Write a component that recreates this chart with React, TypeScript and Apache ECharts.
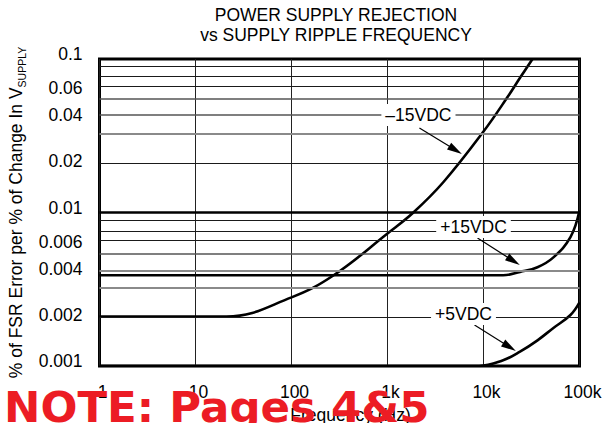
import React, { useEffect, useRef } from 'react';
import * as echarts from 'echarts';

// ---- axes / ticks ----
const xTickValues = [1, 10, 100, 1000, 10000, 100000];
const xTickLabels = ['1', '10', '100', '1k', '10k', '100k'];
const yTickValues = [0.001, 0.002, 0.004, 0.006, 0.01, 0.02, 0.04, 0.06, 0.1];
const yTickLabels = ['0.001', '0.002', '0.004', '0.006', '0.01', '0.02', '0.04', '0.06', '0.1'];

// horizontal grid lines as drawn in the reference (values)
const yGridMajor = [0.01];
const yGridDark = [0.09, 0.078, 0.066, 0.021, 0.0089, 0.0076, 0.0066, 0.0021];
const yGridDim = [0.055, 0.044, 0.0054];
const yGridGray = [0.032, 0.0042, 0.0032];

// ---- series: frequency (Hz) and % of FSR error per % change ----
const m15Freq = [1, 21, 100, 275, 1000, 1860, 3830, 10000, 17800, 24300, 32400];
const m15Val = [0.0021, 0.0021, 0.0028, 0.0039, 0.0073, 0.01, 0.0158, 0.0337, 0.0565, 0.0763, 0.1];

const p15Freq = [1, 10000, 16000, 24000, 36500, 53500, 80500, 100000];
const p15Val = [0.0039, 0.0039, 0.0039, 0.0041, 0.0044, 0.0051, 0.0069, 0.0103];

const p5Freq = [1, 9000, 16000, 24000, 36500, 53500, 80500, 100000];
const p5Val = [0.001, 0.001, 0.00109, 0.00124, 0.00147, 0.00177, 0.00215, 0.0026];

// ---- annotations: [freq, value] ----
const annLabels = ['\u201315VDC', '+15VDC', '+5VDC'];
const annLabelPos = [
  [2100, 0.0431],
  [7870, 0.00805],
  [6190, 0.00218],
];
const annArrowFrom = [
  [2150, 0.0355],
  [8660, 0.00682],
  [8060, 0.00185],
];
const annArrowTo = [
  [5110, 0.0255],
  [20530, 0.00483],
  [18660, 0.00133],
];

const FONT = 'Liberation Sans, Arial, sans-serif';
const lg = (v: number) => Math.log10(v);
const pt = (p: number[]) => [lg(p[0]), lg(p[1])];

const curve = (name: string, f: number[], v: number[]) => ({
  type: 'line',
  name,
  data: f.map((x, i) => [lg(x), lg(v[i])]),
  smooth: 0.4,
  symbol: 'none',
  lineStyle: { color: '#000', width: 2.6 },
  z: 3,
});

const gridLine = (vals: number[], color: string, width: number) =>
  vals.map((v) => ({ yAxis: lg(v), lineStyle: { color, width, type: 'solid' } }));

const option: any = {
  animation: false,
  backgroundColor: '#fff',
  title: {
    text: 'POWER SUPPLY REJECTION\nvs SUPPLY RIPPLE FREQUENCY',
    left: 331,
    top: 0,
    textAlign: 'center',
    textStyle: { fontFamily: FONT, fontSize: 17.5, fontWeight: 'normal', color: '#000', lineHeight: 20 },
  },
  grid: {
    left: 99.5,
    right: 35.5,
    top: 59,
    bottom: 57,
    show: true,
    borderColor: '#000',
    borderWidth: 3,
    backgroundColor: 'transparent',
    outerBoundsMode: 'none',
  },
  xAxis: {
    type: 'value',
    min: 0,
    max: 5,
    interval: 1,
    axisLine: { show: false },
    axisTick: { show: false },
    splitLine: { show: true, lineStyle: { color: '#222', width: 1 } },
    axisLabel: {
      fontFamily: FONT,
      fontSize: 17.5,
      color: '#000',
      margin: 17,
      padding: [0, 0, 0, 6],
      formatter: (v: number) => {
        const i = xTickValues.findIndex((t) => Math.abs(lg(t) - v) < 1e-6);
        return i >= 0 ? xTickLabels[i] : '';
      },
    },
    name: 'Frequency (Hz)',
    nameLocation: 'middle',
    nameGap: 37,
    nameTextStyle: { fontFamily: FONT, fontSize: 17.5, color: '#000', padding: [0, 0, 0, 22] },
  },
  yAxis: {
    type: 'value',
    min: lg(0.001),
    max: lg(0.1),
    axisLine: { show: false },
    axisTick: { show: false },
    splitLine: { show: false },
    axisLabel: {
      customValues: yTickValues.map(lg),
      fontFamily: FONT,
      fontSize: 17.5,
      color: '#000',
      margin: 17,
      verticalAlign: 'bottom',
      lineHeight: 10,
      formatter: (v: number) => {
        const i = yTickValues.findIndex((t) => Math.abs(lg(t) - v) < 1e-6);
        return i >= 0 ? yTickLabels[i] : '';
      },
    },
    name: '% of FSR Error per % of Change In V{sub|SUPPLY}',
    nameLocation: 'middle',
    nameRotate: 90,
    nameGap: 72,
    nameTextStyle: {
      fontFamily: FONT,
      fontSize: 17.5,
      color: '#000',
      lineHeight: 24,
      rich: {
        sub: { fontFamily: FONT, fontSize: 10.5, color: '#000', lineHeight: 24, verticalAlign: 'bottom' },
      },
    },
  },
  series: [
    {
      type: 'line',
      name: 'grid',
      data: [],
      silent: true,
      z: 1,
      markLine: {
        silent: true,
        symbol: ['none', 'none'],
        label: { show: false },
        data: [
          ...gridLine(yGridDark, '#1a1a1a', 1.2),
          ...gridLine(yGridDim, '#555', 1.5),
          ...gridLine(yGridGray, '#8a8a8a', 1.8),
          ...gridLine(yGridMajor, '#000', 2.6),
        ],
      },
    },
    curve('\u201315VDC', m15Freq, m15Val),
    curve('+15VDC', p15Freq, p15Val),
    curve('+5VDC', p5Freq, p5Val),
    {
      type: 'line',
      name: 'annotations',
      data: [],
      silent: true,
      z: 5,
      markLine: {
        silent: true,
        symbol: ['none', 'triangle'],
        label: { show: false },
        lineStyle: { color: '#000', width: 1.2, type: 'solid' },
        data: annArrowFrom.map((p, i) => [
          { coord: pt(p), symbol: 'none' },
          { coord: pt(annArrowTo[i]), symbol: 'triangle', symbolSize: [8, 15] },
        ]),
      },
      markPoint: {
        silent: true,
        symbol: 'circle',
        symbolSize: 0,
        itemStyle: { color: 'transparent' },
        label: {
          show: true,
          position: 'inside',
          formatter: '{b}',
          fontFamily: FONT,
          fontSize: 17.5,
          color: '#000',
          backgroundColor: '#fff',
          padding: [2, 4],
        },
        data: annLabelPos.map((p, i) => ({ name: annLabels[i], coord: pt(p) })),
      },
    },
  ],
  graphic: [
    {
      type: 'text',
      x: 4,
      y: 407,
      z: 100,
      silent: true,
      style: {
        text: 'NOTE: Pages 4&5',
        fontFamily: 'DejaVu Sans',
        fontWeight: 'bold',
        fontSize: 43.5,
        fill: '#ec1c24',
        align: 'left',
        verticalAlign: 'middle',
      },
    },
  ],
};

export default function App() {
  const ref = useRef<HTMLDivElement>(null);
  useEffect(() => {
    const chart = echarts.init(ref.current!, null, { renderer: 'svg' });
    chart.setOption(option);
    return () => chart.dispose();
  }, []);
  return (
    <div
      ref={ref}
      style={{ position: 'fixed', left: 0, top: 0, width: 615, height: 423, background: '#fff' }}
    />
  );
}
